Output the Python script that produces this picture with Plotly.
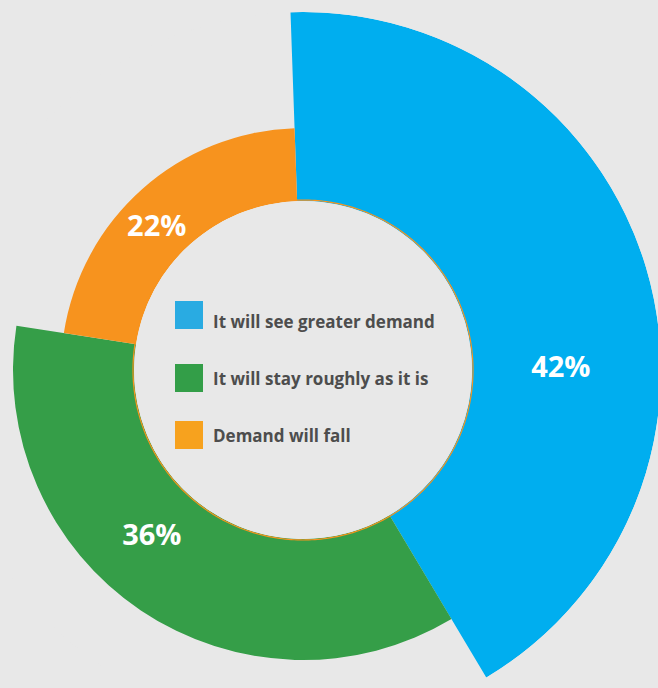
import plotly.graph_objects as go

# Survey answers and their shares (%)
answers = ["It will see greater demand", "It will stay roughly as it is", "Demand will fall"]
shares = [42, 36, 22]
# Outer radius of each ring segment (hole radius is HOLE_R, same units)
ring_outer = [358, 290, 242]

slice_colors = ["#00AEEF", "#359E48", "#F7931E"]
swatch_colors = ["#29ABE2", "#339E48", "#F7A21E"]
BG = "#E8E8E8"
TEXT = "#4D4D4D"

HOLE_R = 169
R_MAX = 358
START = -2          # degrees, clockwise from 12 o'clock
label_theta = [90, 222, 314]

# Figure canvas is larger than the viewport; the div is shifted left so the
# polar centre lands where it should.
W, H = 716, 730
SHIFT_X = 55
TOP = 12

widths = [s * 3.6 for s in shares]
mids = []
acc = START
for w in widths:
    mids.append(acc + w / 2)
    acc += w

fig = go.Figure()
fig.add_trace(go.Barpolar(
    r=[ro - HOLE_R for ro in ring_outer],
    base=[HOLE_R] * len(ring_outer),
    theta=mids,
    width=widths,
    marker=dict(color=slice_colors, line=dict(width=0)),
    hoverinfo="skip",
    showlegend=False,
))

# thin orange rim around the hole
fig.add_trace(go.Scatterpolar(
    r=[HOLE_R + 1] * 361,
    theta=list(range(361)),
    mode="lines",
    line=dict(color="#F7931E", width=1.2),
    hoverinfo="skip",
    showlegend=False,
))

# percentage labels
fig.add_trace(go.Scatterpolar(
    r=[HOLE_R + 0.47 * (ro - HOLE_R) for ro in ring_outer],
    theta=label_theta,
    mode="text",
    text=[f"{s}%" for s in shares],
    textfont=dict(family="Open Sans", size=29, color="white", weight="bold"),
    hoverinfo="skip",
    showlegend=False,
))

fig.update_layout(
    width=W,
    height=H,
    margin=dict(l=0, r=0, t=0, b=0),
    paper_bgcolor=BG,
    plot_bgcolor=BG,
    polar=dict(
        domain=dict(x=[0, 1], y=[1 - (TOP + 2 * R_MAX) / H, 1 - TOP / H]),
        bgcolor=BG,
        hole=HOLE_R / R_MAX,
        radialaxis=dict(range=[HOLE_R, R_MAX], visible=False),
        angularaxis=dict(direction="clockwise", rotation=90, visible=False),
    ),
)

# legend inside the hole
legend_y = [315, 378, 435]
text_y = [321, 378, 435]
for name, col, ys, yt in zip(answers, swatch_colors, legend_y, text_y):
    x0 = 175 + SHIFT_X
    fig.add_shape(
        type="rect", xref="paper", yref="paper",
        x0=x0 / W, x1=(x0 + 28) / W,
        y0=1 - (ys + 14) / H, y1=1 - (ys - 14) / H,
        fillcolor=col, line=dict(width=0),
    )
    fig.add_annotation(
        x=(211 + SHIFT_X) / W, y=1 - yt / H, xref="paper", yref="paper",
        text=name, showarrow=False, xanchor="left", yanchor="middle",
        font=dict(family="Open Sans", size=17, color=TEXT, weight="bold"),
    )

post = (
    "var gd=document.getElementById('{plot_id}');"
    "gd.style.position='absolute';gd.style.left='-%dpx';gd.style.top='0px';"
    "document.body.style.margin='0';document.body.style.overflow='hidden';"
    "document.documentElement.style.overflow='hidden';"
    "document.body.style.background='%s';" % (SHIFT_X, BG)
)
fig.write_html("out.html", post_script=post)
